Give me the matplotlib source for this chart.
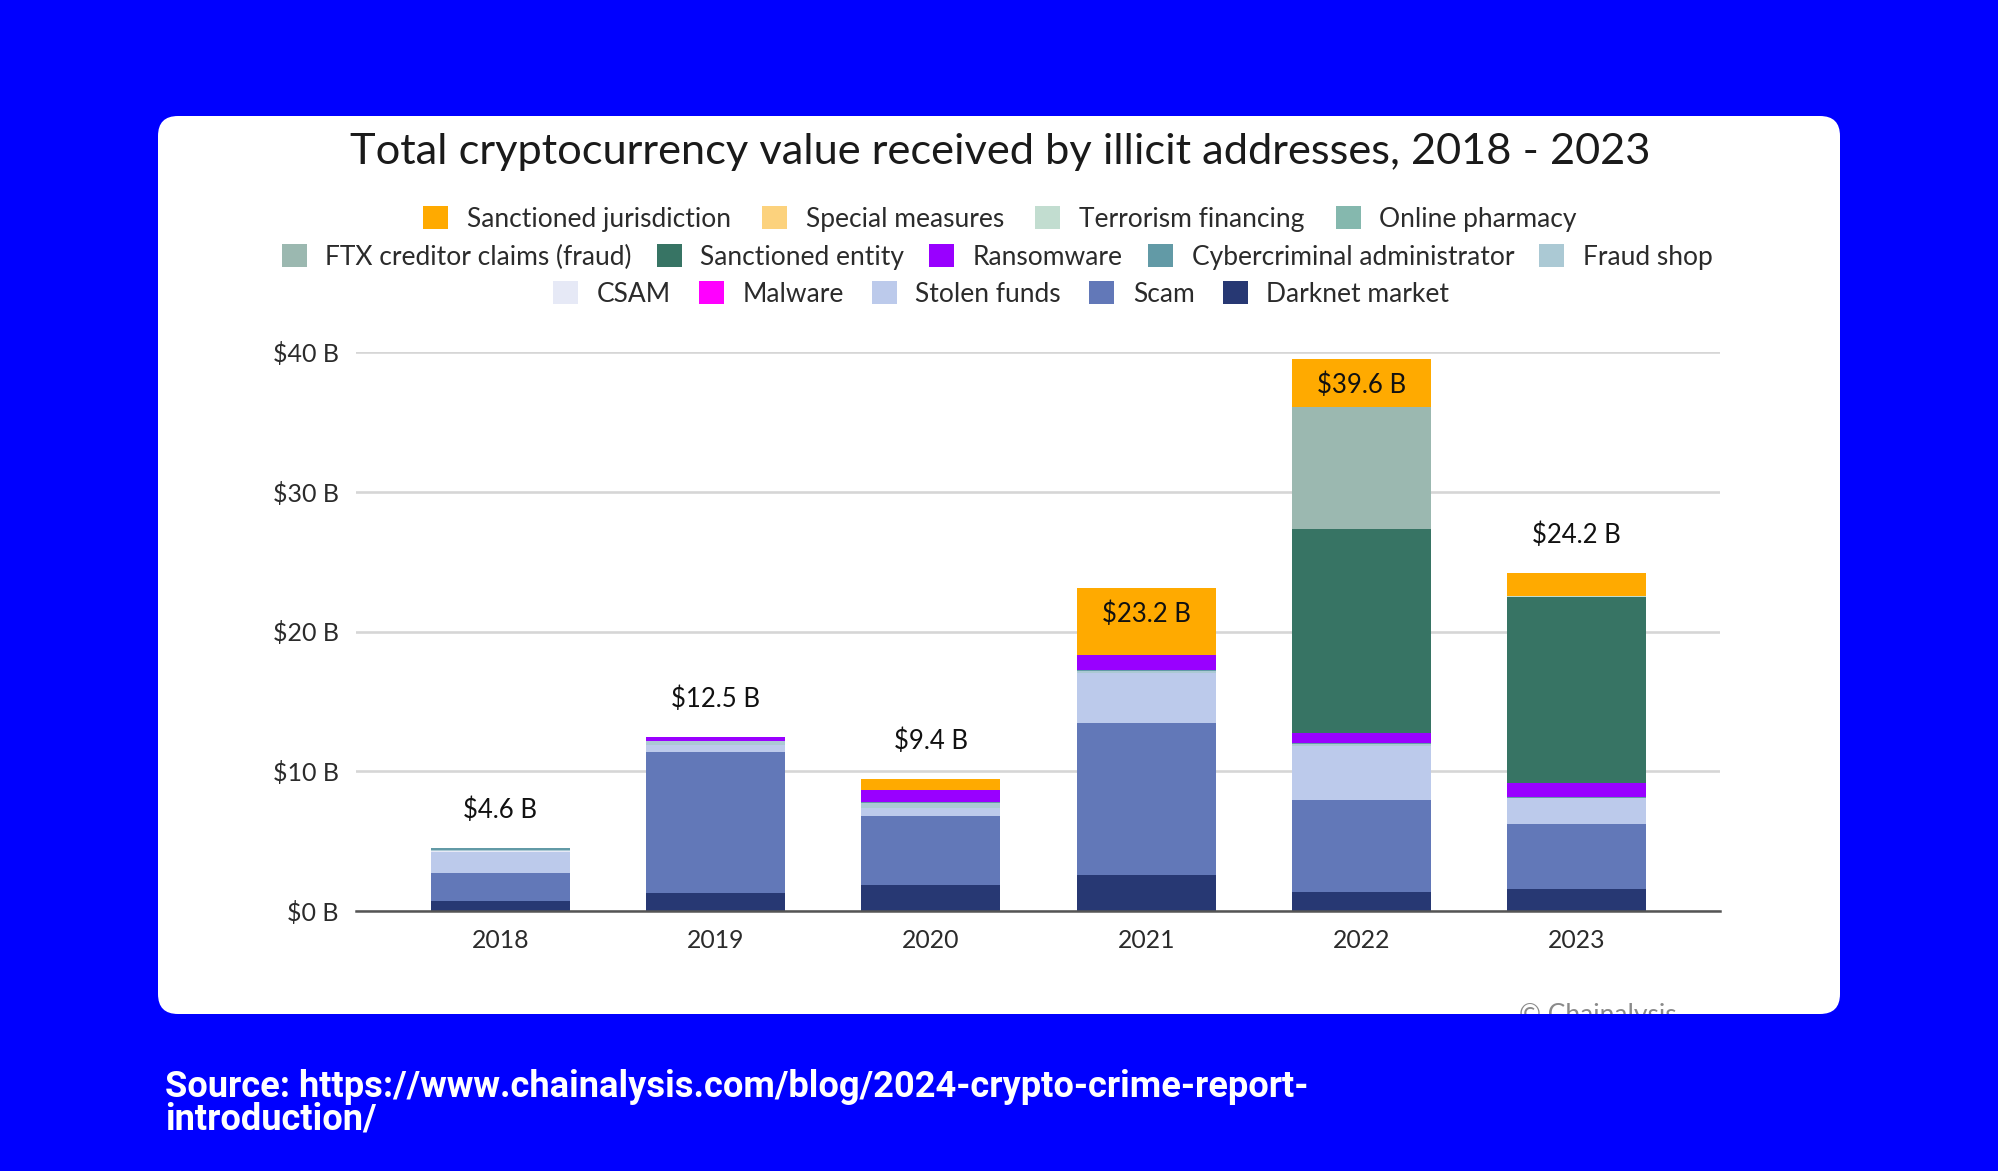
import matplotlib
matplotlib.use("Agg")
import matplotlib.pyplot as plt
from matplotlib.patches import FancyBboxPatch
from matplotlib.transforms import Bbox
import numpy as np

W, H = 1999, 1171
years = ["2018", "2019", "2020", "2021", "2022", "2023"]
totals = [4.6, 12.5, 9.4, 23.2, 39.6, 24.2]
y_ticks = [0, 10, 20, 30, 40]
y_tick_labels = ["$0 B", "$10 B", "$20 B", "$30 B", "$40 B"]

darknet = [0.70, 1.27, 1.85, 2.60, 1.38, 1.54]
scam = [2.04, 10.13, 4.95, 10.86, 6.57, 4.65]
stolen = [1.51, 0.45, 0.60, 3.54, 3.88, 1.89]
malware = [0, 0, 0, 0, 0, 0]
csam = [0.02, 0, 0, 0, 0, 0]
fraud_shop = [0.12, 0.30, 0.30, 0.17, 0.15, 0.03]
cyber = [0.15, 0.02, 0.08, 0.07, 0.07, 0.02]
ransomware = [0, 0.29, 0.90, 1.09, 0.67, 1.05]
entity = [0, 0, 0, 0, 14.58, 13.27]
ftx = [0, 0, 0, 0, 8.80, 0]
pharmacy = [0, 0, 0, 0, 0, 0]
terrorism = [0, 0, 0, 0, 0, 0.10]
special = [0, 0, 0, 0, 0, 0]
jurisdiction = [0, 0, 0.77, 4.77, 3.40, 1.63]

series = [
    ("Darknet market", darknet, "#273873"),
    ("Scam", scam, "#6278B8"),
    ("Stolen funds", stolen, "#BCCAEB"),
    ("Malware", malware, "#FF00FF"),
    ("CSAM", csam, "#E6E9F6"),
    ("Fraud shop", fraud_shop, "#ABC9D4"),
    ("Cybercriminal administrator", cyber, "#629AA6"),
    ("Ransomware", ransomware, "#9900FF"),
    ("Sanctioned entity", entity, "#377464"),
    ("FTX creditor claims (fraud)", ftx, "#9BB8B0"),
    ("Online pharmacy", pharmacy, "#85B8AE"),
    ("Terrorism financing", terrorism, "#C2DDD0"),
    ("Special measures", special, "#FCD27D"),
    ("Sanctioned jurisdiction", jurisdiction, "#FFAA00"),
]
legend_rows = [
    ["Sanctioned jurisdiction", "Special measures", "Terrorism financing", "Online pharmacy"],
    ["FTX creditor claims (fraud)", "Sanctioned entity", "Ransomware", "Cybercriminal administrator", "Fraud shop"],
    ["CSAM", "Malware", "Stolen funds", "Scam", "Darknet market"],
]

BLUE = "#0000FF"
plt.rcParams["font.family"] = ["Lato", "DejaVu Sans"]
TXT = "#2b2b2b"

fig = plt.figure(figsize=(W / 100, H / 100), dpi=100, facecolor=BLUE)
def fx(p): return p / W
def fy(p): return 1 - p / H

card_ax = fig.add_axes([0, 0, 1, 1], zorder=0)
card_ax.set_xlim(0, W); card_ax.set_ylim(H, 0); card_ax.axis("off")
card = FancyBboxPatch((158, 116), 1682, 898, boxstyle="round,pad=0,rounding_size=20",
                      fc="white", ec="none")
card_ax.add_patch(card)
c = card_ax.text(1598, 1015, "© Chainalysis", fontsize=19, color="#8a8a8a", ha="center", va="center", clip_on=True)
c.set_clip_box(Bbox([[158, H - 1014], [1840, H - 116]]))

ax = fig.add_axes([fx(356), fy(911), fx(1720 - 356), (911 - 352) / H], zorder=1)
ax.patch.set_alpha(0)
ax.set_ylim(0, 40)
ax.set_xlim(-0.67, 5.665)
x = np.arange(len(years))
bottom = np.zeros(len(years))
handles = {}
for name, vals, col in series:
    vals = np.array(vals, dtype=float)
    b = ax.bar(x, vals, 0.645, bottom=bottom, color=col, label=name, zorder=3, linewidth=0)
    handles[name] = b
    bottom += vals

ax.set_yticks(y_ticks, y_tick_labels)
ax.set_xticks(x, years)
ax.grid(axis="y", color="#D6D6D6", lw=1.9, zorder=0)
ax.set_axisbelow(True)
for s in ["top", "left", "right"]:
    ax.spines[s].set_visible(False)
ax.spines["bottom"].set_color("#555555")
ax.spines["bottom"].set_linewidth(1.8)
ax.spines["bottom"].set_zorder(5)
ax.tick_params(axis="y", length=0, labelsize=18, labelcolor=TXT, pad=12.3)
ax.tick_params(axis="x", length=0, labelsize=17.8, labelcolor=TXT, pad=12.8)

inside = {3, 4}
for i, t in enumerate(totals):
    top = bottom[i]
    if i in inside:
        ax.text(i, top - 1.9, f"${t} B", ha="center", va="center", fontsize=18.5, color="#111111", zorder=6)
    else:
        ax.text(i, top + 2.7, f"${t} B", ha="center", va="center", fontsize=18.5, color="#111111", zorder=6)

fig.text(fx(1000), fy(152), "Total cryptocurrency value received by illicit addresses, 2018 - 2023",
         ha="center", va="center", fontsize=31.2, color="#1a1a1a")

for row, xp, yp, cs in zip(legend_rows, [1000, 997, 1001], [219, 257, 294], [1.19, 0.95, 1.07]):
    leg = fig.legend([handles[n] for n in row], row, loc="center",
                     bbox_to_anchor=(fx(xp), fy(yp)), ncol=len(row), frameon=False,
                     fontsize=19, handlelength=0.95, handleheight=0.95, handletextpad=0.7,
                     columnspacing=cs, labelcolor=TXT, borderpad=0, borderaxespad=0)

fig.text(fx(165), fy(1087), "Source: https://www.chainalysis.com/blog/2024-crypto-crime-report-",
         fontsize=26.1, color="white", family=["Roboto", "DejaVu Sans"], weight="bold", va="center")
fig.text(fx(165), fy(1120), "introduction/",
         fontsize=26.1, color="white", family=["Roboto", "DejaVu Sans"], weight="bold", va="center")

fig.savefig("out.png", dpi=100, facecolor=BLUE)
